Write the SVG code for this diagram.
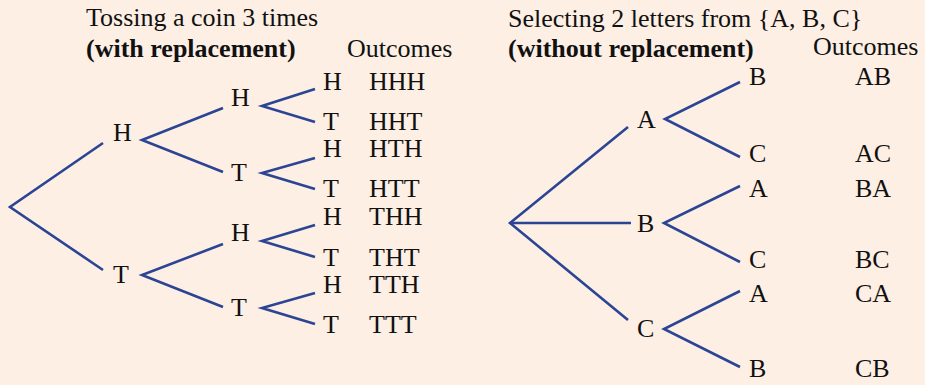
<svg xmlns="http://www.w3.org/2000/svg" width="925" height="385" viewBox="0 0 925 385">
<style>
text{font-family:"Liberation Serif","Times New Roman",serif;font-size:26px;fill:#111}
.b{font-weight:bold}
.e{stroke:#2b4594;stroke-width:2.6;fill:none;stroke-linecap:butt}
</style>
<rect width="925" height="385" fill="#fdefe4"/>
<g id="titles">
<text x="86" y="26">Tossing a coin 3 times</text>
<text x="86" y="57" class="b">(with replacement)</text>
<text x="347" y="57">Outcomes</text>
<text x="508" y="27">Selecting 2 letters from {A, B, C}</text>
<text x="508" y="57" class="b">(without replacement)</text>
<text x="813" y="55">Outcomes</text>
</g>
<g id="connectors">
<polyline class="e" points="103,143 10,207 103,270"/>
<polyline class="e" points="223,108 142,140 223,172"/>
<polyline class="e" points="223,244 142,275 223,307"/>
<polyline class="e" points="315,89 262,106 315,122"/>
<polyline class="e" points="315,158 262,173 315,189"/>
<polyline class="e" points="315,225 262,241 315,257"/>
<polyline class="e" points="315,293 262,308 315,324"/>
<polyline class="e" points="628,127 510,223 628,320"/>
<line class="e" x1="510" y1="223" x2="631" y2="223"/>
<polyline class="e" points="740,82 665,119 740,157"/>
<polyline class="e" points="740,186 664,223 740,262"/>
<polyline class="e" points="740,291 664,329 740,367"/>
</g>
<g id="coin-H"><text x="113" y="141">H</text></g>
<g id="coin-T"><text x="113" y="283">T</text></g>
<g id="coin-HH"><text x="231" y="106">H</text></g>
<g id="coin-HT"><text x="231" y="181">T</text></g>
<g id="coin-TH"><text x="231" y="241">H</text></g>
<g id="coin-TT"><text x="231" y="316">T</text></g>
<g id="coin-HHH"><text x="323" y="90">H</text><text x="369" y="90">HHH</text></g>
<g id="coin-HHT"><text x="323" y="130">T</text><text x="369" y="130">HHT</text></g>
<g id="coin-HTH"><text x="323" y="157">H</text><text x="369" y="157">HTH</text></g>
<g id="coin-HTT"><text x="323" y="197">T</text><text x="369" y="197">HTT</text></g>
<g id="coin-THH"><text x="323" y="225">H</text><text x="369" y="225">THH</text></g>
<g id="coin-THT"><text x="323" y="266">T</text><text x="369" y="266">THT</text></g>
<g id="coin-TTH"><text x="323" y="293">H</text><text x="369" y="293">TTH</text></g>
<g id="coin-TTT"><text x="323" y="333">T</text><text x="369" y="333">TTT</text></g>
<g id="let-A"><text x="637" y="128">A</text></g>
<g id="let-B"><text x="637" y="232">B</text></g>
<g id="let-C"><text x="637" y="337">C</text></g>
<g id="let-AB"><text x="749" y="85">B</text><text x="855" y="85">AB</text></g>
<g id="let-AC"><text x="749" y="162">C</text><text x="855" y="162">AC</text></g>
<g id="let-BA"><text x="749" y="197">A</text><text x="855" y="197">BA</text></g>
<g id="let-BC"><text x="749" y="268">C</text><text x="855" y="268">BC</text></g>
<g id="let-CA"><text x="749" y="302">A</text><text x="855" y="302">CA</text></g>
<g id="let-CB"><text x="749" y="377">B</text><text x="855" y="377">CB</text></g>
</svg>
